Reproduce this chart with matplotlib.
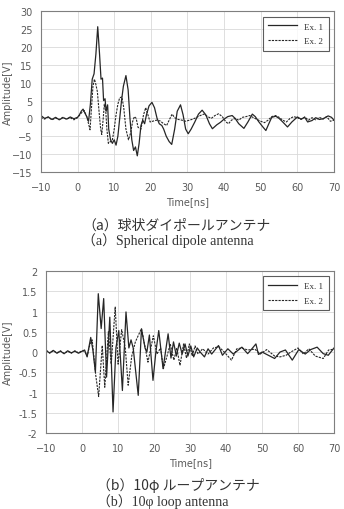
#!/usr/bin/env python3
import matplotlib
matplotlib.use('Agg')
import matplotlib.pyplot as plt

# (a) spherical dipole antenna, key points
a_ex1_t = [-10, -9, -8, -7, -6, -5, -4, -3, -2, -1, 0, 0.5, 1, 1.5, 2, 2.5, 3,
           3.5, 4, 4.5, 5, 5.5, 6.0, 6.4, 6.8, 7.1, 7.5, 7.8, 8.2, 8.5, 9, 9.5,
           10, 10.5, 11, 11.5, 12, 12.5, 13.2, 13.8, 14.3, 14.8, 15.3, 15.8,
           16.3, 16.8, 17.3, 17.8, 18.3, 18.8, 19.5, 20.3, 21, 21.7, 22.3, 23,
           23.5, 24.2, 25, 25.7, 26.5, 27.2, 28.1, 28.8, 29.5, 30.2, 31, 32, 33,
           34, 35, 36, 36.8, 38, 39, 40, 41, 42.2, 43, 44, 45.4, 46.5, 47.7,
           48.5, 49.5, 50.5, 51.4, 52.2, 53, 54.1, 55, 56, 57.3, 58.5, 60, 61,
           62, 62.8, 64, 65, 66, 67, 68.4, 69.3, 70]
a_ex1_v = [0.8, 0.0, 0.4, -0.3, 0.3, -0.4, 0.2, -0.2, 0.4, -0.1, 0.3, 1.0, 2.0,
           2.6, 1.5, 0.5, -0.8, 4, 11, 12.5, 18, 25.7, 18, 11, 11.3, 5, 5.5, 2,
           3.8, -3, -6, -7, -6, -7.5, -5, 0, 5, 9, 12, 8, 0, -6, -9, -8, -10.5,
           -7, -2, -0.5, -1.5, 1, 3.5, 4.5, 3, 0, -1.5, -2, -3, -5, -6.5, -7.3,
           -3, 2, 3.8, 1, -3, -4.3, -3, -1, 1.2, 2.3, 1, -1.5, -2.9, -1.8,
           -1.1, -0.2, 0.5, 0.8, 0, -1.5, -2.8, -1, 1.2, 0.5, -1, -2.3, -3.4,
           -1.5, 0.3, 0.6, 0, -1, -2.4, -1, 0.4, -0.2, 0.3, -1, -0.6, 0.2,
           -0.3, -0.1, 0.7, 0.3, -0.5]
a_ex2_t = [-10, -9, -8, -7, -6, -5, -4, -3, -2, -1, 0, 1, 1.8, 2.5, 3.0, 3.4,
           3.8, 4.2, 4.6, 5.0, 5.4, 5.9, 6.3, 6.6, 7.0, 7.3, 7.7, 8.0, 8.4, 9.0,
           9.5, 10, 10.5, 11, 11.5, 12.1, 12.6, 13.2, 13.9, 14.5, 15, 15.5, 16,
           16.5, 17.3, 18, 18.6, 19.2, 19.8, 20.5, 21.5, 22.5, 23.5, 24.3, 25,
           25.8, 26.5, 27.5, 28.5, 29.5, 30.5, 31.5, 32.5, 33.5, 34.5, 35.5,
           36.5, 37.5, 38.5, 39.5, 40.5, 41.2, 42, 43, 44, 45, 46, 47, 48, 49,
           50, 51, 52, 53, 54, 55, 56, 57, 58, 59, 60, 61, 62, 63, 64, 65, 66,
           67, 68, 69, 70]
a_ex2_v = [0.3, -0.2, 0.4, -0.4, 0.1, -0.3, 0.3, -0.2, 0.2, -0.4, 0.2, 1.5,
           2.2, 0.5, -1.5, -3.2, 3, 9, 11, 9.5, 7.5, 1.5, -3, -4.5, 0, 4, 2,
           -3, -7, -6.5, -6, -3, 1, 4, 5.8, 6, 3, -3, -6, -4, -1, 0.5, 0,
           -2.5, -3, 1, 3, 1, -1, -0.8, -0.5, -0.7, -1.5, -2, -0.5, 1.2, 0.2,
           -0.3, -0.5, -0.8, -0.5, -0.2, 0.3, 0.8, 1.2, 0.5, 0, 0.8, 1.3, 0.5,
           -1.0, -1.5, -0.5, 0, -0.5, 0.3, 0.5, 0.8, 0.2, -0.3, -0.8, -1.2,
           -0.5, 0.5, 0.8, 0.3, -0.5, -1, 0, 0.5, 0.2, -0.3, 0.4, -0.5, 0.2,
           -0.4, 0.3, -0.2, 0.5, -0.8, -0.5]

# (b) 10phi loop antenna
b_ex1_t = [-10, -9, -8, -7, -6, -5, -4, -3, -2, -1, 0, 0.7, 1.4, 2.4, 3.0,
           3.7, 4.5, 5.3, 6.0, 6.8, 7.7, 8.6, 9.4, 10.2, 11.2, 12.2, 13.0,
           13.6, 14.2, 15.6, 16.5, 17.5, 18.0, 18.7, 19.7, 20.5, 21.3, 22.5,
           23.9, 24.7, 25.4, 26.2, 27.0, 27.8, 28.6, 29.4, 30.2, 31.0, 32.0,
           32.8, 34, 35, 36, 37.9, 39, 40.5, 42, 43, 44.4, 46, 47, 48.3, 49,
           50, 51.3, 53.5, 55, 56.5, 58.4, 60.2, 62, 63.5, 65.3, 67, 68.4, 70]
b_ex1_v = [0.03, -0.02, 0.04, -0.03, 0.02, -0.04, 0.03, -0.02, 0.02, -0.03,
           0.02, 0.05, -0.12, 0.36, 0.05, -0.5, 1.44, 0.58, 1.32, -0.62, 0.86,
           -1.48, 0.1, 0.53, -0.95, 0.99, 0.1, 0.3, 0.1, -1.07, 0.57, 0.1,
           0.0, 0.42, -0.7, 0.0, 0.53, -0.41, 0.45, -0.15, 0.25, -0.1, 0.22,
           -0.05, 0.2, -0.1, 0.15, -0.12, 0.1, 0.0, -0.12, 0.08, -0.05, 0.16,
           -0.08, 0.08, -0.05, 0.02, 0.12, -0.04, 0.06, 0.2, -0.06, 0.0,
           -0.06, -0.16, 0.0, 0.05, -0.2, 0.06, -0.05, 0.06, 0.12, -0.04,
           -0.08, 0.1]
b_ex2_t = [-10, -9, -8, -7, -6, -5, -4, -3, -2, -1, 0, 0.7, 1.4, 2.2, 2.8,
           3.8, 4.6, 5.6, 6.3, 7.3, 8.1, 9.2, 10.0, 11.0, 12.0, 12.8, 13.8,
           14.8, 16.5, 18.3, 19.8, 20.8, 21.8, 22.6, 23.6, 24.5, 25.5, 26.3,
           27.2, 28.2, 29.0, 29.8, 30.6, 31.4, 32.2, 33.5, 35, 36.5, 38, 39.5,
           41.5, 43, 44.4, 46, 48, 49.5, 51.3, 53.5, 55, 56.7, 58, 60, 61.5,
           63, 64.8, 67, 68.5, 70]
b_ex2_v = [0.05, -0.03, 0.03, -0.02, 0.03, -0.04, 0.02, -0.03, 0.03, -0.02,
           0.03, 0.02, -0.1, 0.2, 0.3, -0.58, -1.1, 0.16, -0.87, 0.5, -0.3,
           1.11, -0.3, 0.55, 0.1, -0.82, -0.1, 0.25, 0.58, -0.25, 0.4, -0.05,
           0.1, -0.41, -0.1, 0.2, -0.2, 0.1, -0.33, 0.2, -0.15, 0.2, -0.1,
           0.15, -0.05, 0.08, -0.05, 0.1, 0.13, 0.0, -0.2, 0.08, 0.1, 0.05,
           0.07, -0.05, 0.06, -0.1, -0.12, -0.08, 0.0, 0.1, -0.05, 0.08, -0.1,
           -0.16, 0.05, 0.07]

x_ticks = [-10, 0, 10, 20, 30, 40, 50, 60, 70]
a_y_ticks = [-15, -10, -5, 0, 5, 10, 15, 20, 25, 30]
b_y_ticks = [-2, -1.5, -1, -0.5, 0, 0.5, 1, 1.5, 2]
b_y_labels = ['-2', '-1.5', '-1', '-0.5', '0', '0.5', '1', '1.5', '2']

caption_a = ['（a）球状ダイポールアンテナ', '（a）Spherical dipole antenna']
caption_b = ['（b）10φ ループアンテナ', '（b）10φ loop antenna']

TICK_COLOR = '#595959'
GRID_COLOR = '#d9d9d9'
LINE_COLOR = '#262626'


def style_axes(ax, y_ticks, ylab_x, xlab_y, y_labels=None):
    ax.set_xlim(-10, 70)
    ax.set_xticks(x_ticks)
    ax.set_yticks(y_ticks)
    if y_labels is not None:
        ax.set_yticklabels(y_labels)
    ax.set_ylim(y_ticks[0], y_ticks[-1])
    ax.grid(True, color=GRID_COLOR, linewidth=0.6)
    ax.set_axisbelow(True)
    ax.tick_params(axis='y', length=0, labelsize=7, colors=TICK_COLOR, pad=6)
    ax.tick_params(axis='x', length=0, labelsize=7, colors=TICK_COLOR, pad=7)
    for s in ax.spines.values():
        s.set_color('#7f7f7f')
        s.set_linewidth(0.8)
    ax.set_xlabel('Time[ns]', fontsize=7, color=TICK_COLOR, va='center')
    ax.set_ylabel('Amplitude[V]', fontsize=7, color=TICK_COLOR, va='center')
    ax.xaxis.set_label_coords(0.5, xlab_y)
    ax.yaxis.set_label_coords(ylab_x, 0.5)
    leg = ax.legend(loc='upper right', frameon=True, fancybox=False,
                    borderaxespad=0.6, handlelength=3.2, borderpad=0.6,
                    labelspacing=0.7, prop={'family': 'Liberation Serif', 'size': 6.5})
    leg.get_frame().set_edgecolor('#333333')
    leg.get_frame().set_linewidth(0.8)
    for txt in leg.get_texts():
        txt.set_color('#333333')


fig = plt.figure(figsize=(3.44, 5.10), dpi=100)

ax1 = fig.add_axes([0.119, 0.661, 0.852, 0.3147])
ax1.plot(a_ex1_t, a_ex1_v, color=LINE_COLOR, linewidth=0.9, label='Ex. 1')
ax1.plot(a_ex2_t, a_ex2_v, color=LINE_COLOR, linewidth=0.8, linestyle=(0, (2, 1)), label='Ex. 2')
style_axes(ax1, a_y_ticks, -0.113, -0.181)

ax2 = fig.add_axes([0.134, 0.149, 0.837, 0.3176])
ax2.plot(b_ex1_t, b_ex1_v, color=LINE_COLOR, linewidth=0.9, label='Ex. 1')
ax2.plot(b_ex2_t, b_ex2_v, color=LINE_COLOR, linewidth=0.8, linestyle=(0, (2, 1)), label='Ex. 2')
style_axes(ax2, b_y_ticks, -0.132, -0.179, b_y_labels)

# captions under each panel, left aligned like the source figure
cjk = ['Noto Sans CJK JP', 'DejaVu Sans']
serif = ['Liberation Serif', 'Noto Sans CJK JP', 'DejaVu Serif']
fig.text(82 / 344, 1 - 226 / 510, caption_a[0], ha='left', va='center', fontsize=10,
         family=cjk, color='#333333')
fig.text(82 / 344, 1 - 241 / 510, caption_a[1], ha='left', va='center', fontsize=10,
         family=serif, color='#333333')
fig.text(97 / 344, 1 - 486 / 510, caption_b[0], ha='left', va='center', fontsize=10,
         family=cjk, color='#333333')
fig.text(97 / 344, 1 - 502 / 510, caption_b[1], ha='left', va='center', fontsize=10,
         family=serif, color='#333333')

fig.savefig('out.png', dpi=100)
